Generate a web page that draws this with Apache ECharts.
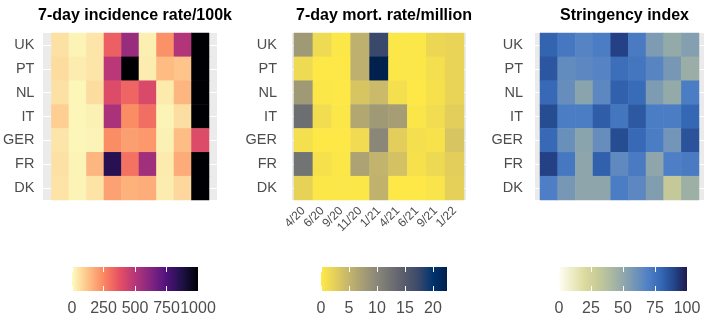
<!DOCTYPE html>
<html>
<head>
<meta charset="utf-8">
<script src="https://cdn.jsdelivr.net/npm/echarts@6/dist/echarts.min.js"></script>
<style>
  html, body { margin: 0; padding: 0; background: #fff; }
  #main { width: 708px; height: 317px; }
</style>
</head>
<body>
<div id="main"></div>
<script>
const countries = ['UK', 'PT', 'NL', 'IT', 'GER', 'FR', 'DK'];
const months = ['4/20', '6/20', '9/20', '11/20', '1/21', '4/21', '6/21', '9/21', '1/22'];

// one row per country, one value per month
const incidence = [
  [60, 20, 50, 340, 570, 30, 230, 510, 1000],
  [70, 35, 50, 490, 1000, 35, 140, 120, 1000],
  [60, 15, 70, 400, 330, 410, 40, 150, 1000],
  [100, 15, 25, 530, 240, 310, 20, 65, 1000],
  [50, 15, 20, 240, 200, 215, 25, 135, 400],
  [60, 20, 150, 850, 300, 550, 40, 175, 1000],
  [55, 20, 55, 195, 160, 170, 35, 80, 1000]
];
const mortality = [
  [8, 1.5, 0.3, 5.5, 17.5, 0.3, 0.3, 1.8, 2],
  [1.5, 0.2, 0.2, 5.5, 22.5, 0.3, 0.3, 1, 2],
  [8, 0.3, 0.2, 3.5, 4.5, 1, 0.2, 0.8, 2],
  [12.8, 1.2, 0.3, 6.5, 8, 7.5, 0.4, 1.2, 2.6],
  [1, 0.2, 0.2, 1.4, 10, 2.6, 1, 0.7, 3.5],
  [12.3, 0.8, 0.3, 7, 5.2, 3.8, 0.8, 1.6, 2.6],
  [2.2, 0.3, 0.3, 0.3, 5.3, 0.2, 0.2, 0.6, 2.4]
];
const stringency = [
  [81, 73, 68, 71, 91, 72, 56, 49, 54],
  [85, 64, 66, 68, 77, 74, 67, 58, 47],
  [79, 63, 52, 66, 82, 78, 56, 49, 71],
  [88, 71, 71, 83, 74, 84, 71, 71, 80],
  [79, 62, 52, 63, 88, 79, 71, 59, 86],
  [91, 73, 51, 82, 65, 72, 51, 70, 72],
  [70, 58, 51, 51, 71, 66, 55, 31, 46]
];

const incTicks = [0, 250, 500, 750, 1000];
const mortTicks = [0, 5, 10, 15, 20];
const strTicks = [0, 25, 50, 75, 100];

const magmaRev = ['#FCFDBF', '#FEC287', '#FB8861', '#E65164', '#B63679', '#822681', '#51127C', '#1D1147', '#000004'];
const cividisRev = ['#FFEA46', '#E4CF5B', '#C4B56C', '#A69D75', '#8A8779', '#707173', '#575C6D', '#39486B', '#00336F', '#00204D'];
const stringencyPal = ['#FEFEF4', '#EEEDC6', '#DCDB9E', '#C7CB98', '#AEBBA0', '#91A8AA', '#7093B8', '#4E7FC6', '#3467B4', '#23458A', '#1E1A4C'];

const panels = [
  {title: '7-day incidence rate/100k', rows: incidence, colors: magmaRev, max: 1000, interval: 250, ticks: incTicks,
    tileLeft: 51, tileWidth: 158, bgLeft: 43, bgWidth: 174, barLeft: 72, barWidth: 126, showX: false},
  {title: '7-day mort. rate/million', rows: mortality, colors: cividisRev, max: 22.5, interval: 5, ticks: mortTicks,
    tileLeft: 294, tileWidth: 170, bgLeft: 292, bgWidth: 174, barLeft: 321, barWidth: 126, showX: true},
  {title: 'Stringency index', rows: stringency, colors: stringencyPal, max: 100, interval: 25, ticks: strTicks,
    tileLeft: 540, tileWidth: 159, bgLeft: 535, bgWidth: 169, barLeft: 559, barWidth: 128, showX: false}
];

const tileTop = 33, tileHeight = 167;
const barTop = 267, barHeight = 25;
const textGrey = '#4D4D4D';

const chart = echarts.init(document.getElementById('main'));

const title = [], grid = [], xAxis = [], yAxis = [], series = [], visualMap = [];

panels.forEach((p, i) => {
  title.push({
    text: p.title, left: p.tileLeft + p.tileWidth / 2, top: 3, textAlign: 'center',
    textStyle: {fontSize: 16, fontWeight: 'bold', color: '#000', fontFamily: 'Liberation Sans'}
  });

  // panel background (grey, white gridlines at row centres)
  grid.push({left: p.bgLeft, top: tileTop, width: p.bgWidth, height: tileHeight,
    show: true, backgroundColor: '#EBEBEB', borderWidth: 0});
  // tiles
  grid.push({left: p.tileLeft, top: tileTop, width: p.tileWidth, height: tileHeight});
  // colour bar
  const stops = p.colors.map((c, k) => ({offset: k / (p.colors.length - 1), color: c}));
  grid.push({left: p.barLeft, top: barTop, width: p.barWidth, height: barHeight,
    show: true, borderWidth: 0, backgroundColor: new echarts.graphic.LinearGradient(0, 0, 1, 0, stops)});

  const g = i * 3;
  xAxis.push({gridIndex: g, type: 'value', show: false});
  yAxis.push({gridIndex: g, type: 'value', min: -0.5, max: 6.5, splitNumber: 7,
    axisLine: {show: false}, axisTick: {show: false}, axisLabel: {show: false},
    splitLine: {show: true, showMinLine: false, showMaxLine: false, lineStyle: {color: '#fff', width: 1}}});

  xAxis.push({gridIndex: g + 1, type: 'category', data: months,
    axisLine: {show: false}, axisTick: {show: false}, splitLine: {show: false},
    axisLabel: {show: p.showX, interval: 0, rotate: 45, fontSize: 12, color: textGrey, margin: 9, fontFamily: 'Liberation Sans'}});
  yAxis.push({gridIndex: g + 1, type: 'category', data: countries, inverse: true,
    axisLine: {show: false}, axisTick: {show: false}, splitLine: {show: false},
    axisLabel: {fontSize: 14.5, color: textGrey, margin: 17, fontFamily: 'Liberation Sans'}});

  xAxis.push({gridIndex: g + 2, type: 'value', min: 0, max: p.max, interval: p.interval, position: 'bottom',
    axisLine: {show: false}, splitLine: {show: false},
    axisTick: {show: true, inside: true, length: 5, lineStyle: {color: '#fff', width: 1}, customValues: p.ticks},
    axisLabel: {fontSize: 16, color: textGrey, margin: 10, fontFamily: 'Liberation Sans', customValues: p.ticks,
      formatter: v => String(v), showMinLabel: true, showMaxLabel: true, hideOverlap: false}});
  xAxis.push({gridIndex: g + 2, type: 'value', min: 0, max: p.max, interval: p.interval, position: 'top',
    axisLine: {show: false}, splitLine: {show: false}, axisLabel: {show: false},
    axisTick: {show: true, inside: true, length: 5, lineStyle: {color: '#fff', width: 1}, customValues: p.ticks}});
  yAxis.push({gridIndex: g + 2, type: 'value', show: false});

  const data = [];
  p.rows.forEach((row, r) => row.forEach((v, c) => data.push([c, r, v])));
  series.push({
    type: 'heatmap', xAxisIndex: i * 4 + 1, yAxisIndex: g + 1, data: data,
    itemStyle: {borderWidth: 0}, emphasis: {disabled: true}
  });
  visualMap.push({type: 'continuous', show: false, seriesIndex: i, min: 0, max: p.max,
    inRange: {color: p.colors}});
});

chart.setOption({
  animation: false,
  backgroundColor: '#fff',
  title: title,
  grid: grid,
  xAxis: xAxis,
  yAxis: yAxis,
  visualMap: visualMap,
  series: series
});
</script>
</body>
</html>
